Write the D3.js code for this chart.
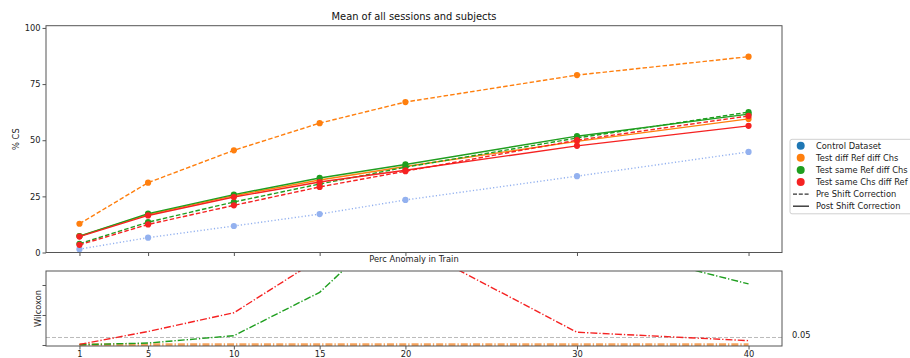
<!DOCTYPE html>
<html>
<head>
<meta charset="utf-8">
<script src="https://cdn.jsdelivr.net/npm/d3@7"></script>
<style>
  html, body { margin: 0; padding: 0; background: #fff; }
  svg { display: block; font-family: "DejaVu Sans", sans-serif; }
</style>
</head>
<body>
<svg id="chart" width="910" height="358"></svg>
<script>
// Percentage of anomalies in the training set (x axis)
const percAnomaly = [1, 5, 10, 15, 20, 30, 40];

// Mean % CS per condition
const controlDataset        = [1.5, 6.6, 11.8, 17.1, 23.4, 34.0, 44.8];
const diffRefDiffChsPre     = [12.8, 31.1, 45.5, 57.6, 67.0, 79.0, 87.2];
const diffRefDiffChsPost    = [7.3, 17.0, 25.3, 32.3, 38.3, 49.5, 59.5];
const sameRefDiffChsPre     = [3.9, 13.5, 22.5, 30.5, 38.0, 51.0, 62.5];
const sameRefDiffChsPost    = [7.3, 17.3, 25.8, 33.2, 39.2, 51.8, 61.6];
const sameChsDiffRefPre     = [3.4, 12.5, 21.0, 29.2, 36.2, 50.0, 60.8];
const sameChsDiffRefPost    = [7.1, 16.5, 24.7, 31.4, 36.6, 47.5, 56.4];

// Wilcoxon p-values (pre vs post shift correction)
const wilcoxonDiffRefDiffChs = [0.001, 0.001, 0.001, 0.001, 0.001, 0.001, 0.001];
const wilcoxonSameRefDiffChs = [0.002, 0.013, 0.062, 0.351, 0.884, 0.695, 0.407];
const wilcoxonSameChsDiffRef = [0.004, 0.090, 0.215, 0.576, 0.685, 0.085, 0.029];
const significance = 0.05;

const yTicksTop = [0, 25, 50, 75, 100];
const yTicksBottom = [0, 0.2, 0.4];

const colors = {
  control: "#6f97ea",
  orange: "#ff7f0e",
  green: "#1f9e1f",
  red: "#f52222",
  bottomOrange: "#f6a35c"
};

const svg = d3.select("#chart");
const left = 46, right = 782;
const topY0 = 25.7, topY1 = 252.5;
const botY0 = 271, botY1 = 346;
const axisColor = "#555";
const fontSize = 8.3;

const x = d3.scaleLinear().domain([-0.95, 41.95]).range([left, right]);
const yTop = d3.scaleLinear().domain([0, 101]).range([topY1, topY0]);
const yBot = d3.scaleLinear().domain([-0.0067, 0.4933]).range([botY1, botY0]);

// clip regions
const defs = svg.append("defs");
defs.append("clipPath").attr("id", "clipTop").append("rect")
  .attr("x", left).attr("y", topY0).attr("width", right - left).attr("height", topY1 - topY0);
defs.append("clipPath").attr("id", "clipBot").append("rect")
  .attr("x", left).attr("y", botY0).attr("width", right - left).attr("height", botY1 - botY0);

// ---------- Top panel ----------
const topG = svg.append("g");
const topPlot = topG.append("g").attr("clip-path", "url(#clipTop)");

const series = [
  { values: controlDataset, color: colors.control, dash: "1.2,2.2", opacity: 0.75 },
  { values: diffRefDiffChsPre, color: colors.orange, dash: "4.5,2.2", opacity: 1 },
  { values: diffRefDiffChsPost, color: colors.orange, dash: null, opacity: 1 },
  { values: sameRefDiffChsPre, color: colors.green, dash: "4.5,2.2", opacity: 1 },
  { values: sameRefDiffChsPost, color: colors.green, dash: null, opacity: 1 },
  { values: sameChsDiffRefPre, color: colors.red, dash: "4.5,2.2", opacity: 1 },
  { values: sameChsDiffRefPost, color: colors.red, dash: null, opacity: 1 }
];

const lineTop = d3.line().x(d => x(d[0])).y(d => yTop(d[1]));

series.forEach(s => {
  const pts = percAnomaly.map((p, i) => [p, s.values[i]]);
  const g = topPlot.append("g").attr("opacity", s.opacity);
  g.append("path")
    .attr("d", lineTop(pts))
    .attr("fill", "none")
    .attr("stroke", s.color)
    .attr("stroke-width", 1.4)
    .attr("stroke-dasharray", s.dash);
  g.selectAll("circle").data(pts).enter().append("circle")
    .attr("cx", d => x(d[0]))
    .attr("cy", d => yTop(d[1]))
    .attr("r", 3.1)
    .attr("fill", s.color);
});

// top axes
const topYAxis = d3.axisLeft(yTop).tickValues(yTicksTop).tickSize(3.5).tickPadding(2);
const gyT = topG.append("g").attr("transform", `translate(${left},0)`).call(topYAxis);
const topXAxis = d3.axisBottom(x).tickValues(percAnomaly).tickSize(3.5).tickFormat("");
const gxT = topG.append("g").attr("transform", `translate(0,${topY1})`).call(topXAxis);
[gyT, gxT].forEach(g => {
  g.select(".domain").remove();
  g.selectAll("line").attr("stroke", axisColor);
  g.selectAll("text").attr("font-size", fontSize).attr("fill", "#222")
    .attr("font-family", "DejaVu Sans");
});
topG.append("rect")
  .attr("x", left).attr("y", topY0).attr("width", right - left).attr("height", topY1 - topY0)
  .attr("fill", "none").attr("stroke", axisColor).attr("stroke-width", 1);

svg.append("text")
  .attr("x", (left + right) / 2).attr("y", 20.3)
  .attr("text-anchor", "middle").attr("font-size", 9.9).attr("fill", "#111")
  .text("Mean of all sessions and subjects");

svg.append("text")
  .attr("transform", `translate(19,${(topY0 + topY1) / 2}) rotate(-90)`)
  .attr("text-anchor", "middle").attr("font-size", fontSize).attr("fill", "#222")
  .text("% CS");

svg.append("text")
  .attr("x", (left + right) / 2).attr("y", 262.3)
  .attr("text-anchor", "middle").attr("font-size", fontSize).attr("fill", "#222")
  .text("Perc Anomaly in Train");

// ---------- Bottom panel ----------
const botG = svg.append("g");
const botPlot = botG.append("g").attr("clip-path", "url(#clipBot)");

botPlot.append("line")
  .attr("x1", left).attr("x2", right)
  .attr("y1", yBot(significance)).attr("y2", yBot(significance))
  .attr("stroke", "#bbb").attr("stroke-width", 1).attr("stroke-dasharray", "4,2");

const wilcoxonSeries = [
  { values: wilcoxonDiffRefDiffChs, color: colors.bottomOrange, width: 3 },
  { values: wilcoxonSameRefDiffChs, color: colors.green, width: 1.4 },
  { values: wilcoxonSameChsDiffRef, color: colors.red, width: 1.4 }
];
const lineBot = d3.line().x(d => x(d[0])).y(d => yBot(d[1]));
wilcoxonSeries.forEach(s => {
  const pts = percAnomaly.map((p, i) => [p, s.values[i]]);
  botPlot.append("path")
    .attr("d", lineBot(pts))
    .attr("fill", "none")
    .attr("stroke", s.color)
    .attr("stroke-width", s.width)
    .attr("stroke-dasharray", "7,2,1.3,2");
});

const botYAxis = d3.axisLeft(yBot).tickValues(yTicksBottom).tickSize(3.5).tickFormat("");
const gyB = botG.append("g").attr("transform", `translate(${left},0)`).call(botYAxis);
const botXAxis = d3.axisBottom(x).tickValues(percAnomaly).tickSize(3.5).tickPadding(2);
const gxB = botG.append("g").attr("transform", `translate(0,${botY1})`).call(botXAxis);
[gyB, gxB].forEach(g => {
  g.select(".domain").remove();
  g.selectAll("line").attr("stroke", axisColor);
  g.selectAll("text").attr("font-size", fontSize).attr("fill", "#222")
    .attr("font-family", "DejaVu Sans");
});
botG.append("rect")
  .attr("x", left).attr("y", botY0).attr("width", right - left).attr("height", botY1 - botY0)
  .attr("fill", "none").attr("stroke", axisColor).attr("stroke-width", 1);

svg.append("text")
  .attr("transform", `translate(41,${(botY0 + botY1) / 2}) rotate(-90)`)
  .attr("text-anchor", "middle").attr("font-size", fontSize).attr("fill", "#222")
  .text("Wilcoxon");

svg.append("text")
  .attr("x", 792).attr("y", yBot(significance) + 1)
  .attr("font-size", fontSize).attr("fill", "#222")
  .text("0.05");

// ---------- Legend ----------
const legendItems = [
  { label: "Control Dataset", type: "marker", color: "#1f77b4" },
  { label: "Test diff Ref diff Chs", type: "marker", color: colors.orange },
  { label: "Test same Ref diff Chs", type: "marker", color: colors.green },
  { label: "Test same Chs diff Ref", type: "marker", color: colors.red },
  { label: "Pre Shift Correction", type: "line", dash: "4,1.8" },
  { label: "Post Shift Correction", type: "line", dash: null }
];
const legend = svg.append("g").attr("transform", "translate(790,139.3)");
legend.append("rect")
  .attr("x", 0).attr("y", 0).attr("width", 140).attr("height", 74.5)
  .attr("rx", 2).attr("fill", "#fff").attr("fill-opacity", 0.8)
  .attr("stroke", "#d0d0d0").attr("stroke-width", 1);
legendItems.forEach((d, i) => {
  const cy = 6.4 + i * 12.1;
  if (d.type === "marker") {
    legend.append("circle").attr("cx", 10.7).attr("cy", cy).attr("r", 4).attr("fill", d.color);
  } else {
    legend.append("line").attr("x1", 3).attr("x2", 19).attr("y1", cy).attr("y2", cy)
      .attr("stroke", "#333").attr("stroke-width", 1.4).attr("stroke-dasharray", d.dash);
  }
  legend.append("text").attr("x", 26).attr("y", cy + 3)
    .attr("font-size", fontSize).attr("fill", "#222").text(d.label);
});
</script>
</body>
</html>
